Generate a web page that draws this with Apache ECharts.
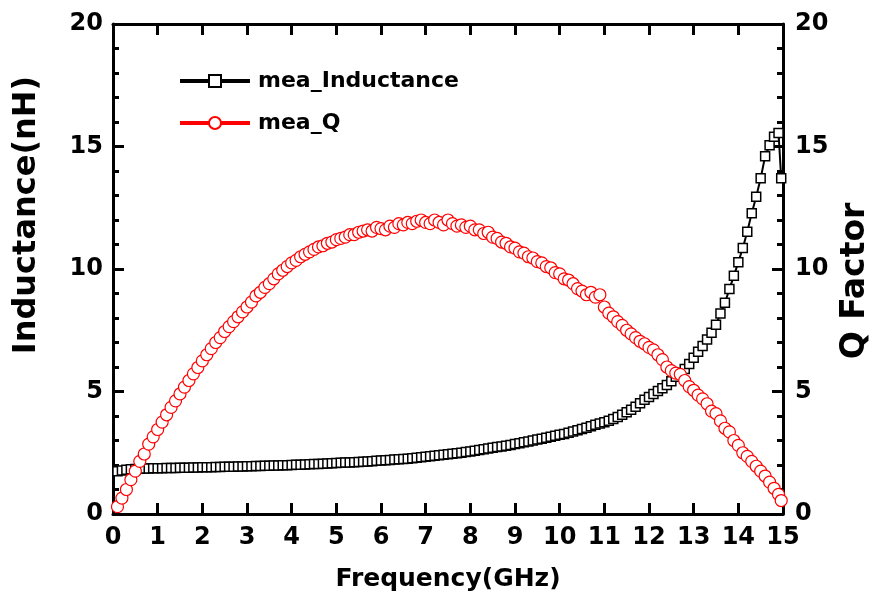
<!DOCTYPE html>
<html><head><meta charset="utf-8">
<script src="https://cdn.jsdelivr.net/npm/echarts@6/dist/echarts.min.js"></script>
<style>html,body{margin:0;padding:0;background:#fff}#c{width:870px;height:606px}</style>
</head><body><div id="c"></div>
<script>
// Frequency (GHz)
const freq = [
0.1,0.2,0.3,0.4,0.5,0.6,0.7,0.8,0.9,1.0,
1.1,1.2,1.3,1.4,1.5,1.6,1.7,1.8,1.9,2.0,
2.1,2.2,2.3,2.4,2.5,2.6,2.7,2.8,2.9,3.0,
3.1,3.2,3.3,3.4,3.5,3.6,3.7,3.8,3.9,4.0,
4.1,4.2,4.3,4.4,4.5,4.6,4.7,4.8,4.9,5.0,
5.1,5.2,5.3,5.4,5.5,5.6,5.7,5.8,5.9,6.0,
6.1,6.2,6.3,6.4,6.5,6.6,6.7,6.8,6.9,7.0,
7.1,7.2,7.3,7.4,7.5,7.6,7.7,7.8,7.9,8.0,
8.1,8.2,8.3,8.4,8.5,8.6,8.7,8.8,8.9,9.0,
9.1,9.2,9.3,9.4,9.5,9.6,9.7,9.8,9.9,10.0,
10.1,10.2,10.3,10.4,10.5,10.6,10.7,10.8,10.9,11.0,
11.1,11.2,11.3,11.4,11.5,11.6,11.7,11.8,11.9,12.0,
12.1,12.2,12.3,12.4,12.5,12.6,12.7,12.8,12.9,13.0,
13.1,13.2,13.3,13.4,13.5,13.6,13.7,13.8,13.9,14.0,
14.1,14.2,14.3,14.4,14.5,14.6,14.7,14.8,14.9,14.96
];
// Inductance (nH)
const inductance = [
1.75,1.78,1.81,1.83,1.84,1.85,1.86,1.86,1.87,1.87,
1.87,1.88,1.88,1.88,1.89,1.89,1.89,1.90,1.90,1.91,
1.91,1.91,1.92,1.92,1.93,1.93,1.93,1.94,1.94,1.95,
1.95,1.96,1.96,1.97,1.97,1.98,1.98,1.99,1.99,2.00,
2.01,2.01,2.02,2.03,2.04,2.04,2.05,2.06,2.07,2.08,
2.09,2.10,2.10,2.11,2.12,2.13,2.14,2.15,2.17,2.18,
2.19,2.20,2.22,2.23,2.24,2.26,2.28,2.30,2.32,2.34,
2.36,2.38,2.40,2.42,2.44,2.46,2.48,2.50,2.53,2.55,
2.58,2.61,2.64,2.67,2.70,2.73,2.76,2.79,2.82,2.86,
2.89,2.93,2.96,3.00,3.04,3.07,3.11,3.15,3.19,3.23,
3.27,3.32,3.37,3.42,3.47,3.52,3.58,3.64,3.69,3.75,
3.81,3.88,3.96,4.05,4.15,4.26,4.38,4.52,4.66,4.78,
4.90,5.02,5.13,5.27,5.42,5.60,5.76,5.92,6.12,6.38,
6.62,6.86,7.12,7.40,7.72,8.18,8.62,9.18,9.72,10.28,
10.86,11.52,12.28,12.95,13.70,14.60,15.05,15.40,15.55,13.70
];
// Q factor
const qFactor = [
0.30,0.65,1.00,1.40,1.75,2.15,2.45,2.85,3.15,3.45,
3.75,4.05,4.35,4.62,4.90,5.18,5.45,5.72,5.98,6.25,
6.50,6.75,7.00,7.20,7.45,7.65,7.85,8.05,8.25,8.45,
8.65,8.90,9.05,9.25,9.40,9.60,9.80,9.95,10.10,10.25,
10.35,10.50,10.60,10.70,10.80,10.90,10.95,11.05,11.10,11.20,
11.25,11.30,11.40,11.40,11.50,11.55,11.60,11.55,11.70,11.65,
11.60,11.75,11.70,11.85,11.80,11.90,11.85,11.95,12.00,11.90,
11.85,12.00,11.90,11.80,12.00,11.85,11.75,11.80,11.70,11.75,
11.60,11.60,11.45,11.50,11.30,11.25,11.10,11.05,10.90,10.85,
10.70,10.65,10.50,10.45,10.30,10.25,10.10,10.05,9.85,9.80,
9.60,9.55,9.40,9.20,9.10,8.95,9.05,8.85,8.95,8.45,
8.20,8.05,7.85,7.70,7.50,7.35,7.20,7.05,6.95,6.80,
6.70,6.50,6.30,6.00,5.85,5.75,5.70,5.45,5.20,5.05,
4.85,4.70,4.50,4.20,4.10,3.80,3.50,3.35,3.00,2.80,
2.50,2.35,2.15,1.95,1.75,1.55,1.30,1.05,0.80,0.55
];
const seriesNames = ['mea_Inductance', 'mea_Q'];
const axisNames = {x: 'Frequency(GHz)', yLeft: 'Inductance(nH)', yRight: 'Q Factor'};

const FONT = 'DejaVu Sans';
const axisLine = {show: true, onZero: false, lineStyle: {color: '#000', width: 3}};
const tick = {show: true, inside: true, length: 11, lineStyle: {color: '#000', width: 3}};
const minor = {show: true, splitNumber: 5, length: 6, lineStyle: {color: '#000', width: 3}};
const lbl = {color: '#000', fontFamily: FONT, fontWeight: 'bold', fontSize: 24};

const chart = echarts.init(document.getElementById('c'), null, {renderer: 'canvas'});
chart.setOption({
  animation: false,
  backgroundColor: '#fff',
  grid: {left: 113, right: 87, top: 24, bottom: 92, containLabel: false, outerBoundsMode: 'none'},
  legend: {
    orient: 'vertical', left: 173, top: 65,
    itemWidth: 70, itemHeight: 15, itemGap: 20,
    data: seriesNames,
    textStyle: {color: '#000', fontFamily: FONT, fontWeight: 'bold', fontSize: 22, lineHeight: 22, padding: [0, 0, 0, 3]},
    lineStyle: {width: 4}
  },
  xAxis: [
    {type: 'value', min: 0, max: 15, interval: 1, position: 'bottom',
     axisLine, axisTick: tick, splitLine: {show: false},
     axisLabel: Object.assign({}, lbl, {margin: 12}),
     name: axisNames.x, nameLocation: 'middle', nameGap: 53,
     nameTextStyle: Object.assign({}, lbl, {fontSize: 25})},
    {type: 'value', min: 0, max: 15, interval: 1, position: 'top',
     axisLine, axisTick: tick, splitLine: {show: false}, axisLabel: {show: false}}
  ],
  yAxis: [
    {type: 'value', min: 0, max: 20, interval: 5, position: 'left',
     axisLine, axisTick: tick, minorTick: minor, splitLine: {show: false},
     axisLabel: Object.assign({}, lbl, {margin: 10}),
     name: axisNames.yLeft, nameLocation: 'middle', nameGap: 70, nameRotate: 90,
     nameTextStyle: Object.assign({}, lbl, {fontSize: 32, padding: [0, 0, 0, 108]})},
    {type: 'value', min: 0, max: 20, interval: 5, position: 'right',
     axisLine, axisTick: tick, minorTick: minor, splitLine: {show: false},
     axisLabel: Object.assign({}, lbl, {margin: 12}),
     name: axisNames.yRight, nameLocation: 'middle', nameGap: 48, nameRotate: 90,
     nameTextStyle: Object.assign({}, lbl, {fontSize: 33, padding: [0, 24, 0, 0]})}
  ],
  series: [
    {name: seriesNames[0], type: 'line', xAxisIndex: 0, yAxisIndex: 0,
     data: freq.map((f, i) => [f, inductance[i]]),
     symbol: 'rect', symbolSize: 9, showAllSymbol: true,
     itemStyle: {color: '#fff', borderColor: '#000', borderWidth: 1.5},
     lineStyle: {color: '#000', width: 2}, z: 2},
    {name: seriesNames[1], type: 'line', xAxisIndex: 0, yAxisIndex: 1,
     data: freq.map((f, i) => [f, qFactor[i]]),
     symbol: 'circle', symbolSize: 12, showAllSymbol: true,
     itemStyle: {color: '#fff', borderColor: '#ff0000', borderWidth: 1.2},
     lineStyle: {color: '#ff0000', width: 1}, z: 3}
  ]
});
</script></body></html>
